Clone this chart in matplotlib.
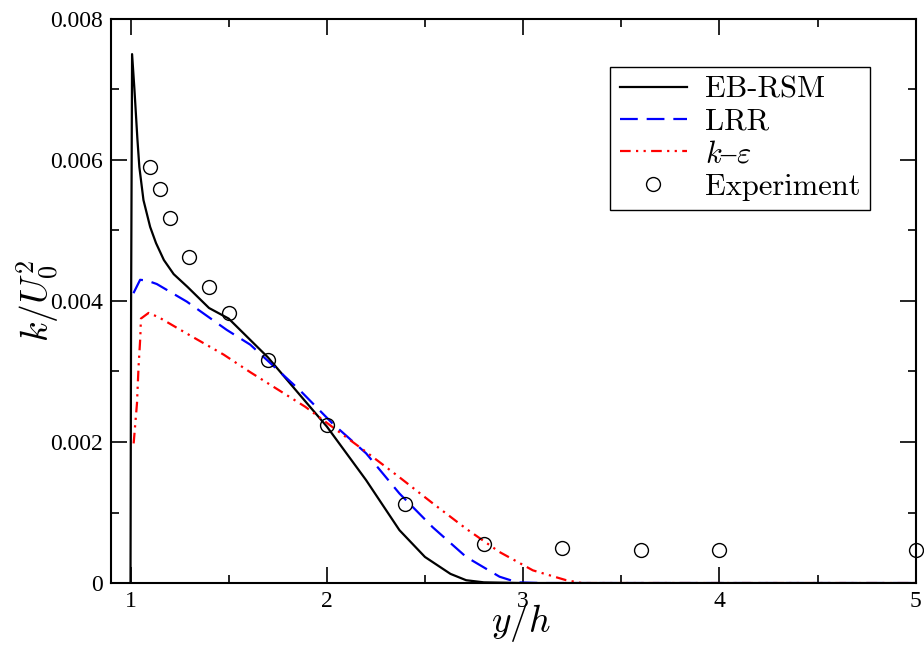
import matplotlib
matplotlib.use("Agg")
import matplotlib.pyplot as plt
from matplotlib.ticker import MultipleLocator, FuncFormatter

plt.rcParams["font.family"] = ["Liberation Serif", "DejaVu Serif"]
plt.rcParams["mathtext.fontset"] = "cm"

# EB-RSM
ebrsm_x = [1.0, 1.003, 1.008, 1.02, 1.035, 1.045, 1.066, 1.1, 1.13, 1.17, 1.22, 1.29,
           1.4, 1.5, 1.7, 1.865, 2.0, 2.2, 2.37, 2.5, 2.63, 2.71, 2.8, 3.0, 5.0]
ebrsm_y = [0.0, 0.004, 0.0075, 0.0070, 0.0063, 0.0059, 0.00543, 0.00505, 0.00482, 0.00458,
           0.00438, 0.0042, 0.0039, 0.00375, 0.0032, 0.00266, 0.00222, 0.00146, 0.00075,
           0.00037, 0.00013, 0.00004, 0.00001, 0.0, 0.0]

# LRR
lrr_x = [1.015, 1.049, 1.083, 1.134, 1.287, 1.49, 1.61, 1.864, 2.03, 2.2, 2.37, 2.54,
         2.71, 2.88, 2.97, 3.1, 5.0]
lrr_y = [0.00411, 0.00430, 0.00429, 0.00424, 0.00399, 0.00359, 0.00338, 0.00273, 0.00226,
         0.00184, 0.00127, 0.00079, 0.00037, 0.00009, 0.00001, 0.0, 0.0]

# k-epsilon
ke_x = [1.016, 1.033, 1.041, 1.05, 1.053, 1.092, 1.143, 1.304, 1.474, 1.61, 1.89, 2.03,
        2.2, 2.37, 2.54, 2.71, 2.88, 3.05, 3.22, 3.3, 5.0]
ke_y = [0.00198, 0.00255, 0.00307, 0.00349, 0.00375, 0.00383, 0.00377, 0.00351, 0.00324,
        0.00299, 0.00250, 0.00221, 0.00186, 0.00150, 0.00113, 0.00077, 0.00044, 0.00018,
        0.00004, 0.0, 0.0]

# experiment
exp_x = [1.1, 1.15, 1.2, 1.3, 1.4, 1.5, 1.7, 2.0, 2.4, 2.8, 3.2, 3.6, 4.0, 5.0]
exp_y = [0.00590, 0.00559, 0.00517, 0.00463, 0.00420, 0.00383, 0.00316, 0.00224,
         0.00112, 0.00055, 0.00050, 0.00047, 0.00047, 0.00047]

fig = plt.figure(figsize=(9.24, 6.5), dpi=100)
ax = fig.add_axes([0.120, 0.103, 0.871, 0.868])

ax.plot(ebrsm_x, ebrsm_y, color="black", lw=1.6, label="EB-RSM")
ax.plot(lrr_x, lrr_y, color="blue", lw=1.6, linestyle=(0, (8, 4)), label="LRR")
ax.plot(ke_x, ke_y, color="red", lw=1.6, linestyle=(0, (4.8, 2.4, 1, 2.4, 1, 2.4)),
        label=r"$k$–$\varepsilon$")
ax.plot(exp_x, exp_y, linestyle="none", marker="o", markersize=10, mfc="none",
        mec="black", mew=1.0, label="Experiment", clip_on=False)

ax.set_xlim(0.9, 5.0)
ax.set_ylim(0, 0.008)
ax.xaxis.set_major_locator(MultipleLocator(1))
ax.xaxis.set_minor_locator(MultipleLocator(0.5))
ax.yaxis.set_major_locator(MultipleLocator(0.002))
ax.yaxis.set_minor_locator(MultipleLocator(0.001))
ax.yaxis.set_major_formatter(FuncFormatter(lambda v, p: "0" if abs(v) < 1e-9 else "%.3f" % v))
ax.tick_params(which="both", direction="in", top=True, right=True, width=1.2,
               labelsize=17, pad=6)
ax.tick_params(which="major", length=11.5)
ax.tick_params(which="minor", length=5.8)
for s in ax.spines.values():
    s.set_linewidth(1.5)

ax.set_xlabel(r"$y/h$", fontsize=27, labelpad=-8, x=0.509)
ax.set_ylabel(r"$k/U_0^2$", fontsize=27, labelpad=-8)

leg = ax.legend(loc="upper right", bbox_to_anchor=(0.943, 0.915),
                prop={"family": "cmr10", "size": 22},
                handlelength=2.2, handletextpad=0.6, labelspacing=0.15,
                borderpad=0.3, fancybox=False, framealpha=1, borderaxespad=0)
leg.get_frame().set_edgecolor("black")
leg.get_frame().set_linewidth(1.0)
leg.get_texts()[2].set_family("Liberation Serif")

fig.savefig("out.png", dpi=100)
